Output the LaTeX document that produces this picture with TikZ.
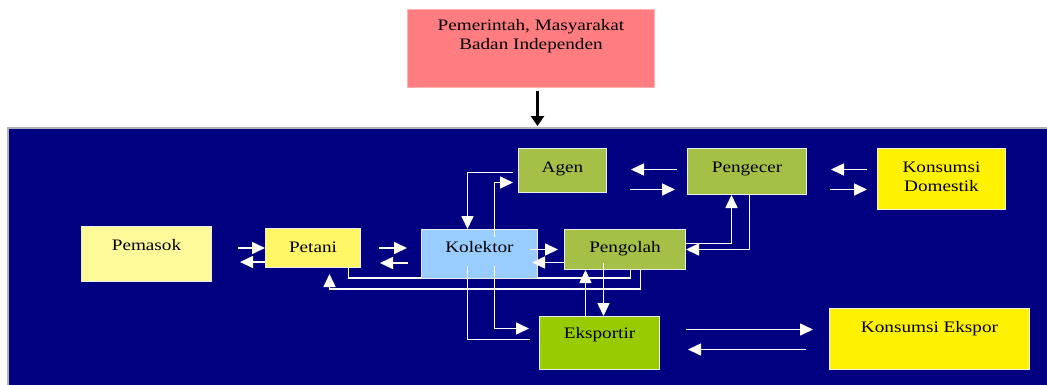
\documentclass[tikz,border=0pt]{standalone}
\usepackage{fontspec}
\setmainfont{Liberation Serif}[FakeStretch=1.2]
\usepackage{xcolor}
\usepackage{tikz}
\usetikzlibrary{arrows.meta, positioning, calc, backgrounds}

\definecolor{navy}{RGB}{0,0,128}
\definecolor{pinkbox}{RGB}{255,124,128}
\definecolor{olive}{RGB}{165,192,70}
\definecolor{limegreen}{RGB}{153,204,0}
\definecolor{lightblue}{RGB}{153,204,255}

\begin{document}
\begin{tikzpicture}[
  x=1pt, y=1pt,
  font=\fontsize{16}{19}\selectfont,
  box/.style={draw=white!85!gray, line width=1pt, inner xsep=0pt, inner ysep=0pt, anchor=north west, align=center, text height=23pt},
  arr/.style={draw=white, line width=1.6pt, -{Triangle[length=13pt, width=12pt]}},
  wline/.style={draw=white, line width=1.6pt}
]
\useasboundingbox (0,0) rectangle (1047,-384);
\begin{scope}[on background layer]
\filldraw[fill=navy, draw=gray!60, line width=1.5pt] (8,-128) rectangle (1055,-392);
\end{scope}

\node[box, fill=pinkbox, draw=pinkbox!60, minimum width=247pt, text height=40pt, text depth=38pt] (pemerintah) at (407,-9) {Pemerintah, Masyarakat\\Badan Independen};
\node[box, fill=olive, minimum width=88pt, text height=24pt, text depth=20pt] (agen) at (518,-148) {Agen};
\node[box, fill=olive, minimum width=119pt, text height=24pt, text depth=22pt] (pengecer) at (687,-148) {Pengecer};
\node[box, fill=yellow, minimum width=128pt, text height=43pt, text depth=18pt] (kdomestik) at (877,-148) {Konsumsi\\Domestik};
\node[box, fill=yellow!40, minimum width=130pt, text height=24pt, text depth=31pt] (pemasok) at (81,-226) {Pemasok};
\node[box, fill=yellow!60, minimum width=95pt, text height=24pt, text depth=15pt] (petani) at (265,-228) {Petani};
\node[box, fill=lightblue, minimum width=116pt, text depth=26pt] (kolektor) at (421,-229) {Kolektor};
\node[box, fill=olive, minimum width=121pt, text depth=17pt] (pengolah) at (564,-229) {Pengolah};
\node[box, fill=limegreen, minimum width=120pt, text height=22pt, text depth=31pt] (eksportir) at (539,-316) {Eksportir};
\node[box, fill=yellow, minimum width=200pt, text height=24pt, text depth=37pt] (kekspor) at (829,-308) {Konsumsi Ekspor};

\draw[line width=3pt, -{Triangle[length=10pt, width=13pt]}] ([shift={(6.5,-3)}]pemerintah.south) -- ++(0,-35);

\begin{scope}[on background layer]
\draw[wline] ([xshift=35.5pt]petani.south) -- ++(0,-10) -| ([xshift=5.5pt]pengolah.south);
\end{scope}

\draw[arr] ([xshift=-27pt]petani.west) -- (petani.west);
\draw[arr] ([yshift=-14pt]petani.west) -- ++(-25,0);
\draw[arr] ($(petani.east)+(18,0)$) -- ($(petani.east)+(46,0)$);
\draw[arr] ($(petani.east)+(47,-15)$) -- ($(petani.east)+(19,-15)$);
\draw[arr] ([xshift=-34pt]pengolah.west) -- ([xshift=-6pt]pengolah.west);
\draw[arr] ([yshift=-13pt]pengolah.west) -- ++(-32,0);
\draw[arr] ([shift={(-10,2)}]pengecer.west) -- ([shift={(24,1)}]agen.east);
\draw[arr] ([shift={(23,-19)}]agen.east) -- ([shift={(-12,-18)}]pengecer.west);
\draw[arr] ([shift={(-10,9.5)}]kdomestik.west) -- ([shift={(24,2)}]pengecer.east);
\draw[arr] ([shift={(23,-18)}]pengecer.east) -- ([shift={(-10,-10.5)}]kdomestik.west);
\draw[arr] ([shift={(26,13.5)}]eksportir.east) -- ([shift={(-16,9.5)}]kekspor.west);
\draw[arr] ([shift={(-23,-10.5)}]kekspor.west) -- ([shift={(28,-6.5)}]eksportir.east);
\draw[arr] ([shift={(-5,-2)}]agen.west) -| ([xshift=-12pt]kolektor.north);
\draw[arr] ([shift={(15,-8)}]kolektor.north) |- ([shift={(-5,-12)}]agen.west);
\draw[arr] ([shift={(15,13)}]kolektor.south) |- ([shift={(-10,14.5)}]eksportir.west);
\draw[wline] ([shift={(-12,13)}]kolektor.south) |- ([shift={(-9,3.5)}]eksportir.west);
\draw[arr] ([xshift=-14pt]eksportir.north) -- ([xshift=-14pt]eksportir.north |- pengolah.south);
\draw[arr] ([shift={(-21.5,7)}]pengolah.south) -- ([xshift=4pt]eksportir.north);
\draw[arr] ([yshift=6pt]pengolah.east) -| ([xshift=-15.5pt]pengecer.south);
\draw[arr] ([xshift=2.5pt]pengecer.south) |- (pengolah.east);
\draw[arr] ([xshift=15.5pt]pengolah.south) -- ++(0,-19) -| ([shift={(16.5,-6)}]petani.south);
\end{tikzpicture}
\end{document}
